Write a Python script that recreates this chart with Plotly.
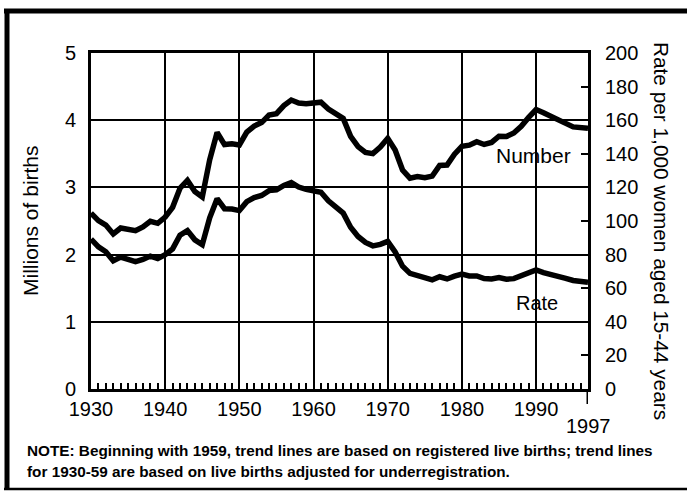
import plotly.graph_objects as go

years = list(range(1930, 1998))
births_millions = [
    2.618, 2.506, 2.440, 2.307, 2.396, 2.377, 2.355, 2.413, 2.496, 2.466,
    2.559, 2.703, 2.989, 3.104, 2.939, 2.858, 3.411, 3.817, 3.637, 3.649,
    3.632, 3.823, 3.913, 3.965, 4.078, 4.097, 4.218, 4.300, 4.255, 4.245,
    4.258, 4.268, 4.167, 4.098, 4.027, 3.760, 3.606, 3.521, 3.502, 3.600,
    3.731, 3.556, 3.258, 3.137, 3.160, 3.144, 3.168, 3.327, 3.333, 3.494,
    3.612, 3.629, 3.681, 3.639, 3.669, 3.761, 3.757, 3.809, 3.910, 4.041,
    4.158, 4.111, 4.065, 4.000, 3.953, 3.900, 3.891, 3.881,
]
rate_per_1000 = [
    89.2, 84.6, 81.7, 76.3, 78.5, 77.2, 75.8, 77.1, 79.1, 77.6,
    79.9, 83.4, 91.5, 94.3, 88.8, 85.9, 101.9, 113.3, 107.3, 107.1,
    106.2, 111.5, 113.9, 115.2, 118.1, 118.5, 121.2, 122.9, 120.2, 118.8,
    118.0, 117.1, 112.0, 108.3, 104.7, 96.3, 90.8, 87.2, 85.2, 86.1,
    87.9, 81.6, 73.1, 68.8, 67.8, 66.0, 65.0, 66.8, 65.5, 67.2,
    68.4, 67.3, 67.3, 65.7, 65.5, 66.3, 65.4, 65.7, 67.2, 69.2,
    70.9, 69.3, 68.4, 67.0, 65.9, 64.6, 64.1, 63.6,
]
x_tick_vals = [1930, 1940, 1950, 1960, 1970, 1980, 1990]
left_ticks = [0, 1, 2, 3, 4, 5]
right_ticks = list(range(0, 201, 20))

FONT = "Liberation Sans, Arial, sans-serif"
W, H = 687, 492
L, R, T, B = 91, 99, 53, 103
PW, PH = W - L - R, H - T - B

def px(xp):
    return (xp - L) / PW

def py(yp):
    return (H - B - yp) / PH

fig = go.Figure()
fig.add_trace(go.Scatter(x=years, y=births_millions, mode="lines",
                         line=dict(color="black", width=5.5), yaxis="y",
                         name="Number", showlegend=False))
fig.add_trace(go.Scatter(x=years, y=rate_per_1000, mode="lines",
                         line=dict(color="black", width=5.5), yaxis="y2",
                         name="Rate", showlegend=False))

fig.update_layout(
    width=W, height=H,
    margin=dict(l=L, r=R, t=T, b=B, pad=0),
    paper_bgcolor="white", plot_bgcolor="white",
    font=dict(family=FONT, color="black", size=20),
    xaxis=dict(
        range=[1930, 1997], tickvals=x_tick_vals,
        ticktext=[str(v) for v in x_tick_vals],
        showgrid=True, gridcolor="black", gridwidth=1.5,
        showline=True, linecolor="black", linewidth=3, mirror=True,
        ticks="inside", ticklen=9, tickwidth=2, tickcolor="black",
        minor=dict(dtick=1, tick0=1930, ticks="inside", ticklen=6,
                   tickwidth=1.5, tickcolor="black", showgrid=False),
        tickfont=dict(size=20), zeroline=False, ticklabelstandoff=0,
    ),
    yaxis=dict(
        range=[0, 5], tickvals=left_ticks,
        showgrid=True, gridcolor="black", gridwidth=2,
        showline=True, linecolor="black", linewidth=3, mirror=True,
        ticks="inside", ticklen=6, tickwidth=2, tickcolor="black",
        tickfont=dict(size=20), zeroline=False, ticklabelstandoff=8,
    ),
    yaxis2=dict(
        range=[0, 200], tickvals=right_ticks, overlaying="y", side="right",
        showgrid=False, showline=True, linecolor="black", linewidth=3,
        ticks="inside", ticklen=7, tickwidth=2, tickcolor="black",
        tickfont=dict(size=20), zeroline=False, ticklabelstandoff=10,
    ),
)

shapes = [
    dict(type="line", xref="x", yref="paper", x0=1997, x1=1997, y0=0, y1=py(404),
         line=dict(color="black", width=3)),
    dict(type="line", xref="paper", yref="paper", x0=px(4), x1=px(700), y0=py(11), y1=py(11),
         line=dict(color="black", width=5)),
    dict(type="line", xref="paper", yref="paper", x0=px(7), x1=px(7), y0=py(9), y1=py(490),
         line=dict(color="black", width=5)),
    dict(type="line", xref="paper", yref="paper", x0=px(4), x1=px(700), y0=py(489), y1=py(489),
         line=dict(color="black", width=2.5)),
]
fig.update_layout(shapes=shapes)

annotations = [
    dict(text="1997", xref="x", yref="paper", x=1997, y=py(426), showarrow=False,
         font=dict(size=20), xanchor="center", yanchor="middle"),
    dict(text="Millions of births", xref="paper", yref="paper", x=px(30), y=py(221),
         textangle=-90, showarrow=False, font=dict(size=21), xanchor="center", yanchor="middle"),
    dict(text="Rate per 1,000 women aged 15-44 years", xref="paper", yref="paper",
         x=px(662), y=py(231), textangle=90, showarrow=False, font=dict(size=20.8),
         xanchor="center", yanchor="middle"),
    dict(text="Number", xref="paper", yref="paper", x=px(573), y=py(155), showarrow=False,
         font=dict(size=21), xanchor="right", yanchor="middle"),
    dict(text="Rate", xref="paper", yref="paper", x=px(537), y=py(303), showarrow=False,
         font=dict(size=20), xanchor="center", yanchor="middle"),
    dict(text="<b>NOTE: Beginning with 1959, trend lines are based on registered live births; trend lines</b>",
         xref="paper", yref="paper", x=px(25), y=py(450), showarrow=False,
         font=dict(size=15.3), xanchor="left", yanchor="middle"),
    dict(text="<b>for 1930-59 are based on live births adjusted for underregistration.</b>",
         xref="paper", yref="paper", x=px(25), y=py(471), showarrow=False,
         font=dict(size=15.3), xanchor="left", yanchor="middle"),
]
fig.update_layout(annotations=annotations)

fig.write_html("out.html", config={"displayModeBar": False},
               post_script="document.body.style.margin='0';document.body.style.overflow='hidden';")
